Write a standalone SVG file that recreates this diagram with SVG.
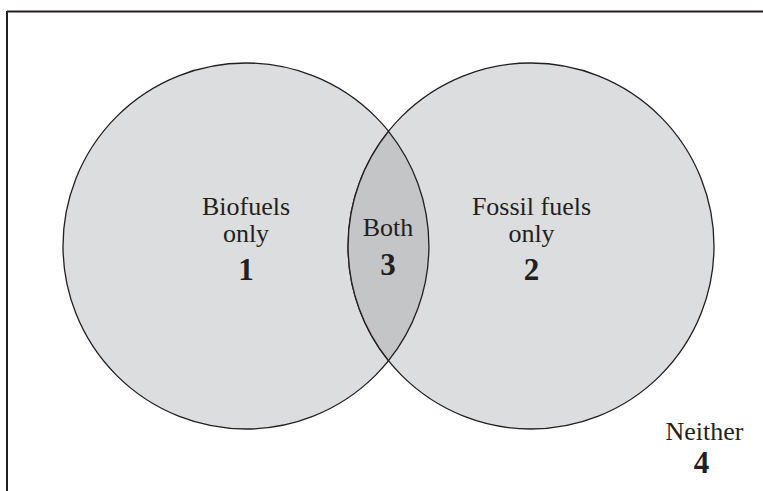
<svg xmlns="http://www.w3.org/2000/svg" width="763" height="491" viewBox="0 0 763 491">
<style>
.frame{stroke:#231f20;stroke-width:2;fill:none}
.set{fill:#dcdddf;stroke:#231f20;stroke-width:1.3}
.lens{fill:#c4c5c7;stroke:#231f20;stroke-width:1.3}
.lbl{font-family:"Liberation Serif","Times New Roman",serif;font-size:26px;fill:#231f20;text-anchor:middle}
.num{font-family:"Liberation Serif","Times New Roman",serif;font-size:31px;font-weight:bold;fill:#231f20;text-anchor:middle}
</style>
<rect width="763" height="491" fill="#fff"/>
<g id="frame">
<line class="frame" x1="7" y1="11.5" x2="763" y2="11.5" stroke="#3a3a3a"/>
<line class="frame" x1="7" y1="11" x2="7" y2="491"/>
</g>
<g id="biofuels">
<circle class="set" cx="246" cy="246" r="183"/>
</g>
<g id="fossil">
<circle class="set" cx="531" cy="246" r="183"/>
</g>
<g id="both">
<path class="lens" d="M388.5 131.3 A183 183 0 0 1 388.5 360.7 A183 183 0 0 1 388.5 131.3 Z"/>
</g>
<g id="biofuels-label">
<text class="lbl" x="246" y="215">Biofuels</text>
<text class="lbl" x="246" y="242">only</text>
<text class="num" x="246" y="280">1</text>
</g>
<g id="both-label">
<text class="lbl" x="388" y="236">Both</text>
<text class="num" x="388" y="275">3</text>
</g>
<g id="fossil-label">
<text class="lbl" x="531.5" y="215">Fossil fuels</text>
<text class="lbl" x="531.5" y="242">only</text>
<text class="num" x="531.5" y="280">2</text>
</g>
<g id="neither">
<text class="lbl" x="704.5" y="440">Neither</text>
<text class="num" x="701.5" y="473">4</text>
</g>
<g id="connectors"/>
</svg>
